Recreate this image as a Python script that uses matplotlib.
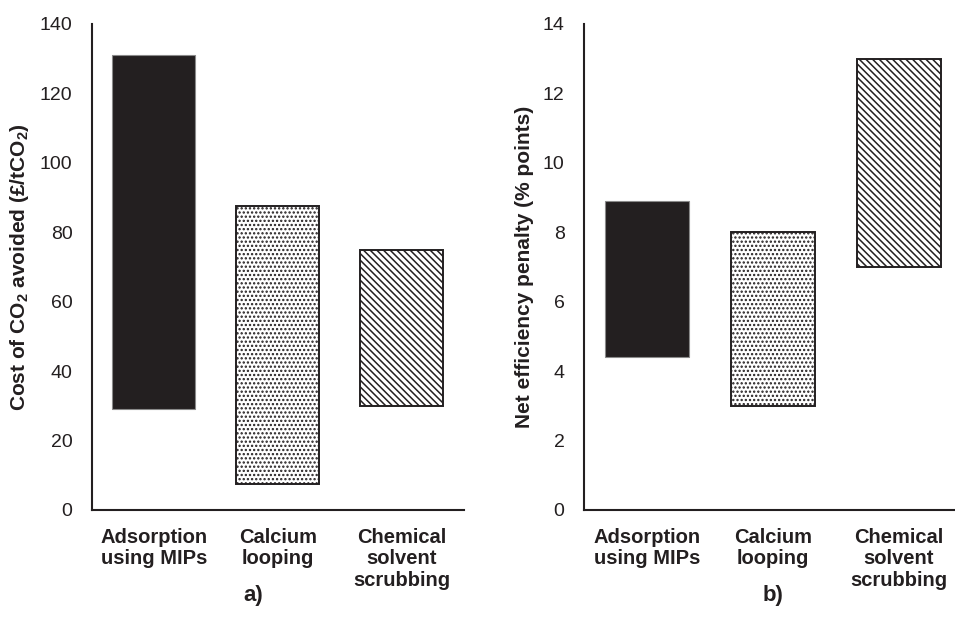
import matplotlib.pyplot as plt
import numpy as np

plt.rcParams['font.family'] = ['Liberation Sans', 'DejaVu Sans']
plt.rcParams['mathtext.fontset'] = 'custom'
plt.rcParams['mathtext.rm'] = 'Liberation Sans'
plt.rcParams['mathtext.bf'] = 'Liberation Sans:bold'
plt.rcParams['hatch.linewidth'] = 1.1

categories = ['Adsorption\nusing MIPs', 'Calcium\nlooping', 'Chemical\nsolvent\nscrubbing']

cost_low = [29, 7.5, 30]
cost_high = [131, 87.5, 75]

penalty_low = [4.4, 3.0, 7.0]
penalty_high = [8.9, 8.0, 13.0]

ink = '#231f20'
hatches = [None, '....', '\\\\\\\\\\']
faces = [ink, 'white', 'white']
edges = ['#8a8a8a', ink, ink]

fig = plt.figure(figsize=(9.55, 6.23), dpi=100)
ax1 = fig.add_axes([0.0963, 0.1814, 0.3895, 0.7801])
ax2 = fig.add_axes([0.6115, 0.1814, 0.3958, 0.7801])


def draw(ax, low, high, ymax, step, ylabel, tag, tag_x):
    x = np.arange(len(categories))
    for i in range(len(categories)):
        ax.bar(x[i], high[i] - low[i], bottom=low[i], width=0.67,
               color=faces[i], edgecolor=edges[i], hatch=hatches[i],
               linewidth=1.4 if i else 0.8)
    ax.set_xlim(-0.5, 2.5)
    ax.set_ylim(0, ymax)
    ax.set_yticks(np.arange(0, ymax + step, step))
    ax.set_xticks(x)
    ax.set_xticklabels(categories, fontweight='bold', fontsize=14.5,
                       color=ink, linespacing=1.15)
    ax.tick_params(axis='y', length=0, pad=14, labelsize=14, labelcolor=ink)
    ax.tick_params(axis='x', length=0, pad=13)
    for s in ['top', 'right']:
        ax.spines[s].set_visible(False)
    for s in ['left', 'bottom']:
        ax.spines[s].set_linewidth(1.5)
        ax.spines[s].set_color(ink)
    ax.set_ylabel(ylabel, fontweight='bold', fontsize=15, color=ink, labelpad=6)
    ax.text(tag_x, -0.175, tag, transform=ax.transAxes, ha='center',
            va='center', fontweight='bold', fontsize=16, color=ink)


draw(ax1, cost_low, cost_high, 140, 20,
     r'Cost of CO$_\mathbf{2}$ avoided (£/tCO$_\mathbf{2}$)', 'a)', 0.433)
draw(ax2, penalty_low, penalty_high, 14, 2,
     'Net efficiency penalty (% points)', 'b)', 0.5)

fig.savefig('out.png', dpi=100)
